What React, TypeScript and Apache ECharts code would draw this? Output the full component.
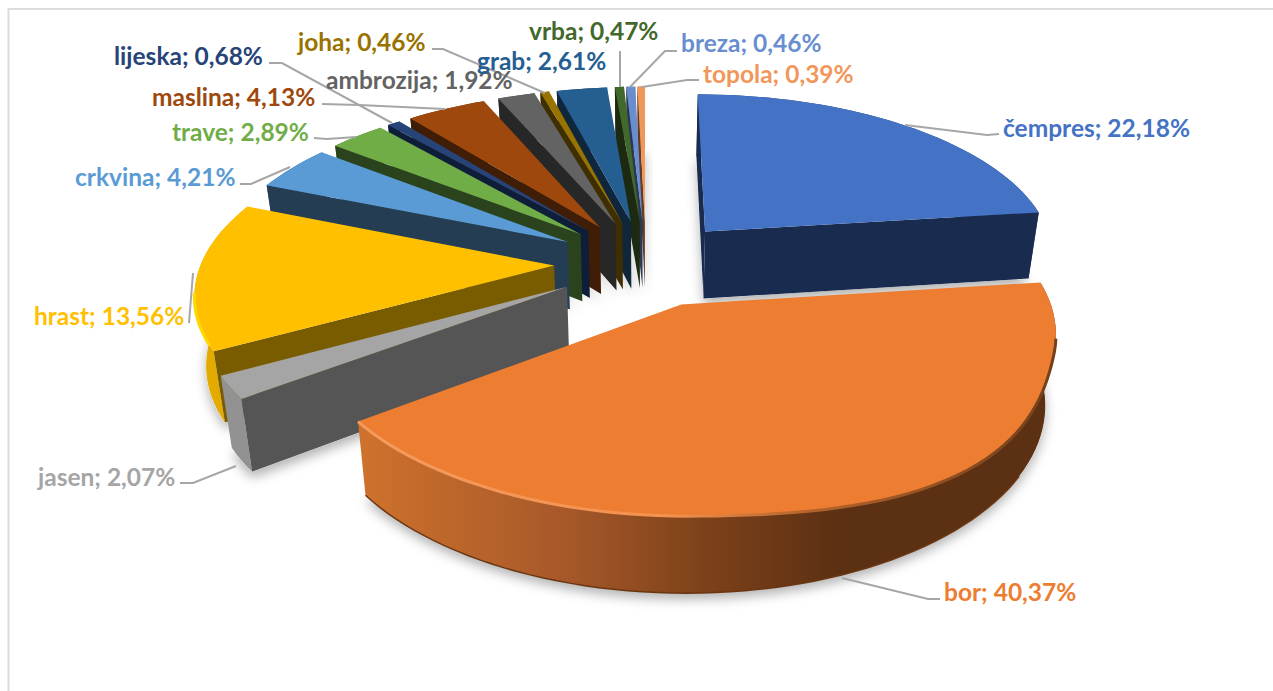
import React, { useEffect, useRef } from "react";
import * as echarts from "echarts";

// Pollen shares, clockwise from twelve o'clock
const names = ["čempres", "bor", "jasen", "hrast", "crkvina", "trave", "lijeska", "maslina", "ambrozija", "joha", "grab", "vrba", "breza", "topola"];
const shares = [22.18, 40.37, 2.07, 13.56, 4.21, 2.89, 0.68, 4.13, 1.92, 0.46, 2.61, 0.47, 0.46, 0.39];
const topColors = ["#4472C4", "#ED7D31", "#A5A5A5", "#FFC000", "#5B9BD5", "#70AD47", "#264478", "#9E480E", "#636363", "#997300", "#255E91", "#43682B", "#698ED0", "#F1975A"];
const sideColors = ["#1A2B50", "#5E3013", "#555555", "#7A5C00", "#243D52", "#2B431C", "#0E1D38", "#3F1D06", "#272727", "#3F2F00", "#0F263B", "#1B2A11", "#2A3853", "#603C24"];
const rimColors = ["#2A447A", "#A85A22", "#929292", "#E3AB00", "#36658C", "#4A7230", "#16294F", "#6A300A", "#3F3F3F", "#665000", "#173E60", "#2C451C", "#465F8C", "#A0643C"];
// Far slices are painted first so that nearer ones overlap them
const paintOrder = [0, 13, 12, 11, 10, 9, 8, 7, 6, 5, 4, 3, 2, 1];

// Label anchors: left edge and vertical centre of each text
const labelX = [1003, 944, 38, 34, 75, 172, 114, 152, 326, 298, 477, 529, 681, 703];
const labelY = [127, 591, 476, 315, 176, 131, 55, 96, 79, 41, 60, 30, 42, 73];
// Leader lines running from the slice to its text
const leaders = [
  [[905, 125], [987, 135], [999, 134]],
  [[842, 578], [928, 599], [940, 599]],
  [[236, 466], [193, 483], [180, 483]],
  [[193, 273], [189, 323]],
  [[290, 167], [251, 184], [240, 184]],
  [[356, 137], [327, 139], [314, 138]],
  [[445, 109], [359, 105], [322, 104]],
  [[392, 123], [282, 63], [269, 63]],
  [[545, 93], [443, 49], [432, 49]],
  [[620, 51], [620, 87]],
  [[630, 87], [665, 51], [677, 51]],
  [[642, 87], [687, 80], [699, 80]],
];

// Camera model of the tilted pie plane
const CX = 646;
const VANISH_Y = -879;
const DIST = 1142;
const PERSP = 0.145;
const RX = 353;
const DEPTH = 68;
const DEPTH_GROWTH = 0.6;
const BOTTOM_SHRINK = 0.974;
const EXPLODE = 0.26;
// The largest slice sits slightly wider, and its bevelled top edge swells towards the lower right
const LARGE_RADIUS = 1.01;
const BEVEL_SWELL = 0.05;
const BEVEL_FROM = 105;
const BEVEL_SPAN = 75;

const total = shares.reduce((a, b) => a + b, 0);
const starts: number[] = [];
shares.reduce((acc, v, i) => {
  starts[i] = (acc / total) * 360;
  return acc + v;
}, 0);
const rad = (d: number) => (d * Math.PI) / 180;

function project(u: number, v: number, low: boolean): number[] {
  const k = 1 / (1 + PERSP * v);
  let x = RX * u * k;
  let y = VANISH_Y + DIST * k;
  if (low) {
    x *= BOTTOM_SHRINK;
    y += DEPTH * (1 + DEPTH_GROWTH * (k - 1));
  }
  return [CX + x, y];
}

function rimRadius(i: number, deg: number, low: boolean) {
  if (i !== 1) return 1;
  if (low || deg < BEVEL_FROM || deg > BEVEL_FROM + BEVEL_SPAN) return LARGE_RADIUS;
  return LARGE_RADIUS + BEVEL_SWELL * Math.sin((Math.PI * (deg - BEVEL_FROM)) / BEVEL_SPAN) ** 2;
}

function sliceGeometry(i: number) {
  const a = starts[i];
  const b = a + (shares[i] / total) * 360;
  const m = rad((a + b) / 2);
  const ou = EXPLODE * Math.sin(m);
  const ov = EXPLODE * Math.cos(m);
  const at = (deg: number, low: boolean) => {
    const r = rimRadius(i, deg, low);
    return project(ou + r * Math.sin(rad(deg)), ov + r * Math.cos(rad(deg)), low);
  };
  const steps = Math.max(2, Math.ceil((b - a) / 2));
  const arc = (low: boolean) => {
    const pts: number[][] = [];
    for (let s = 0; s <= steps; s++) pts.push(at(a + ((b - a) * s) / steps, low));
    return pts;
  };
  return {
    a,
    b,
    apexTop: project(ou, ov, false),
    apexLow: project(ou, ov, true),
    rimTop: arc(false),
    rimLow: arc(true),
  };
}

function rimFill(i: number) {
  if (i === 1) {
    return new echarts.graphic.LinearGradient(357, 0, 840, 0, [
      { offset: 0, color: "#CF722C" },
      { offset: 0.42, color: "#A8592A" },
      { offset: 0.71, color: "#7E421A" },
      { offset: 1, color: "#5C3013" },
    ], true);
  }
  return rimColors[i];
}

function renderSlice(_: unknown, api: any) {
  const i = api.value(0);
  const g = sliceGeometry(i);
  const n = g.rimTop.length - 1;
  const side = { fill: sideColors[i] };
  const sinA = Math.sin(rad(g.a));
  const sinB = Math.sin(rad(g.b));
  const children: any[] = [
    { type: "polygon", shape: { points: [...g.rimTop, ...[...g.rimLow].reverse()] }, style: { fill: rimFill(i) } },
  ];
  // Only the cut faces turned towards the viewer are drawn
  if (sinA < 0 || g.a === 0) {
    children.push({ type: "polygon", shape: { points: [g.apexTop, g.rimTop[0], g.rimLow[0], g.apexLow] }, style: side });
  }
  if (sinB > 0) {
    children.push({ type: "polygon", shape: { points: [g.apexTop, g.rimTop[n], g.rimLow[n], g.apexLow] }, style: side });
  }
  children.push({ type: "polygon", shape: { points: [g.apexTop, ...g.rimTop] }, style: { fill: topColors[i] } });
  if (i === 1) {
    const lit = g.rimTop.filter((_p, k) => g.a + ((g.b - g.a) * k) / n > 100);
    children.push({
      type: "polyline",
      shape: { points: lit },
      style: {
        fill: "none",
        lineWidth: 3,
        stroke: new echarts.graphic.LinearGradient(357, 0, 1050, 0, [
          { offset: 0, color: "#F59A5E" },
          { offset: 0.45, color: "#F49250" },
          { offset: 0.65, color: "#B5642A" },
          { offset: 1, color: "#74401C" },
        ], true),
      },
    });
    const edge = g.rimLow.filter((_p, k) => g.a + ((g.b - g.a) * k) / n > 120);
    children.push({ type: "polyline", shape: { points: edge }, style: { fill: "none", lineWidth: 1.5, stroke: "#6B3510" } });
  }
  if (i === 3) {
    children.push({ type: "polyline", shape: { points: g.rimTop.slice(1, 11) }, style: { stroke: "#FFD800", lineWidth: 3, fill: "none" } });
  }
  return { type: "group", children };
}

function renderShadow(_: unknown, api: any) {
  const g = sliceGeometry(api.value(0));
  return {
    type: "polygon",
    shape: { points: [g.apexLow, ...g.rimLow] },
    style: { fill: "#ffffff", shadowBlur: 12, shadowColor: "rgba(0,0,0,0.3)", shadowOffsetX: 0, shadowOffsetY: 6 },
  };
}

const labelText = (i: number) => `${names[i]}; ${shares[i].toFixed(2).replace(".", ",")}%`;

export default function App() {
  const ref = useRef<HTMLDivElement>(null);
  useEffect(() => {
    document.body.style.margin = "0";
    document.body.style.background = "#ffffff";
    const chart = echarts.init(ref.current!, undefined, { renderer: "svg" });
    const seriesData = paintOrder.map((i) => [i]);
    chart.setOption({
      animation: false,
      backgroundColor: "#ffffff",
      series: [
        { type: "custom", name: "shadow", coordinateSystem: "none", silent: true, z: 1, data: seriesData, renderItem: renderShadow },
        { type: "custom", name: "udio", coordinateSystem: "none", silent: true, z: 2, data: seriesData, renderItem: renderSlice },
      ],
      graphic: [
        { type: "polyline", z: 0, shape: { points: [[8.5, 691], [8.5, 9], [1273, 9]] }, style: { stroke: "#DCDCDC", lineWidth: 2, fill: "none" } },
        ...leaders.map((points) => ({
          type: "polyline",
          z: 3,
          shape: { points },
          style: { stroke: "#A6A6A6", lineWidth: 2, fill: "none" },
        })),
        ...names.map((_n, i) => ({
          type: "text",
          z: 4,
          x: labelX[i],
          y: labelY[i],
          style: {
            text: labelText(i),
            fill: topColors[i],
            font: 'bold 24.5px Lato, "Noto Sans", sans-serif',
            textAlign: "left",
            textVerticalAlign: "middle",
          },
        })),
      ],
    });
    return () => chart.dispose();
  }, []);
  return <div ref={ref} style={{ position: "absolute", left: 0, top: 0, width: 1273, height: 691 }} />;
}
